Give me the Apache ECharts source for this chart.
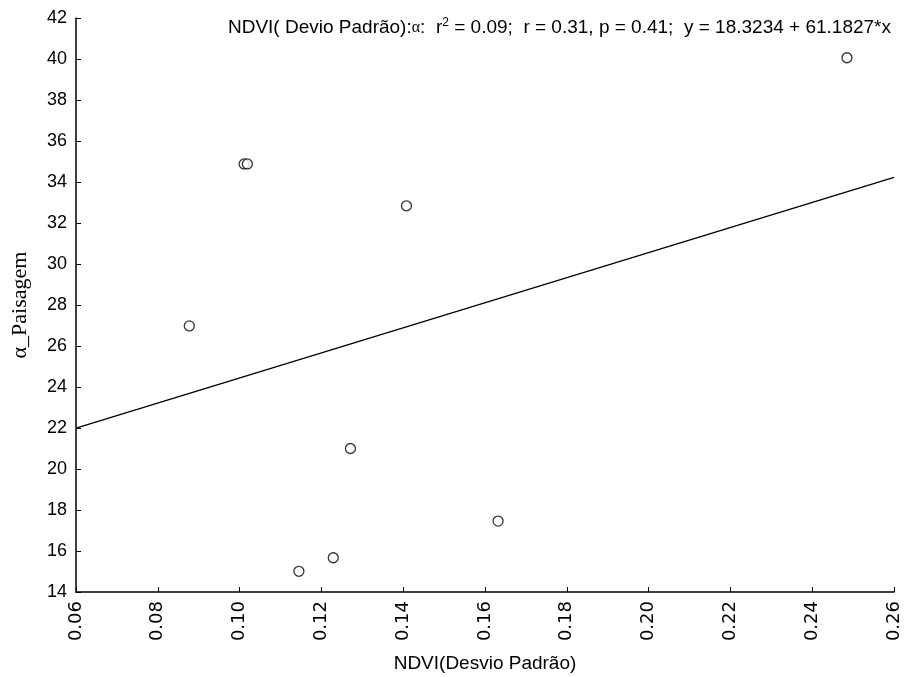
<!DOCTYPE html>
<html>
<head>
<meta charset="utf-8">
<script src="https://cdn.jsdelivr.net/npm/echarts@6/dist/echarts.min.js"></script>
<style>
  html, body { margin: 0; padding: 0; background: #fff; }
  #chart { width: 904px; height: 677px; }
</style>
</head>
<body>
<div id="chart"></div>
<script>
// desvio padrão do NDVI (x) e alfa da paisagem (y)
const ndviSd = [0.2485, 0.1011, 0.1019, 0.1408, 0.0877, 0.1271, 0.1632, 0.1229, 0.1145]
const alphaPaisagem = [40.06, 34.88, 34.88, 32.84, 26.98, 21.0, 17.46, 15.67, 15.01]
// reta ajustada: extremos do eixo x
const fitX = [0.06, 0.26]
const fitY = [21.99, 34.23]
const xTicks = ['0.06', '0.08', '0.10', '0.12', '0.14', '0.16', '0.18', '0.20', '0.22', '0.24', '0.26']
const yTicks = [14, 16, 18, 20, 22, 24, 26, 28, 30, 32, 34, 36, 38, 40, 42]

const sans = '"Liberation Sans", Arial, sans-serif'
const wide = '"DejaVu Sans", Verdana, sans-serif'
const serif = '"Liberation Serif", "Times New Roman", serif'

const option = {
  backgroundColor: '#fff',
  animation: false,
  // título com a equação
  title: {
    right: 8,
    top: 12,
    text: 'NDVI( Devio Padrão):{a|α}:  r{sup|2} = 0.09;  r = 0.31, p = 0.41;  y = 18.3234 + 61.1827*x',
    textStyle: {
      fontFamily: sans,
      fontSize: 19,
      fontWeight: 'normal',
      color: '#000',
      rich: {
        a: { fontFamily: serif, fontSize: 16, color: '#000' },
        sup: { fontFamily: sans, fontSize: 12, color: '#000', verticalAlign: 'top', padding: [0, 0, 9, 0] },
      },
    },
  },
  grid: { left: 76, right: 10, top: 18, bottom: 85, outerBoundsMode: 'none' },
  xAxis: {
    type: 'value',
    min: 0.06,
    max: 0.26,
    interval: 0.02,
    name: 'NDVI(Desvio Padrão)',
    nameLocation: 'middle',
    nameGap: 62,
    nameTextStyle: { fontFamily: sans, fontSize: 19, color: '#000' },
    splitLine: { show: false },
    axisLine: { lineStyle: { color: '#000', width: 1.5 } },
    axisTick: { inside: true, length: 5, lineStyle: { color: '#000' } },
    axisLabel: {
      rotate: 90,
      margin: 9,
      fontFamily: wide,
      fontSize: 18,
      color: '#000',
      formatter: v => xTicks[Math.round((v - 0.06) / 0.02)],
    },
  },
  yAxis: {
    type: 'value',
    min: 14,
    max: 42,
    interval: 2,
    name: 'α_Paisagem',
    nameLocation: 'middle',
    nameGap: 45,
    nameTextStyle: { fontFamily: serif, fontSize: 22, color: '#000' },
    splitLine: { show: false },
    axisLine: { show: true, lineStyle: { color: '#000', width: 1.5 } },
    axisTick: { show: true, inside: true, length: 5, lineStyle: { color: '#000' } },
    axisLabel: {
      margin: 9,
      fontFamily: sans,
      fontSize: 18,
      color: '#000',
      formatter: v => String(yTicks[Math.round((v - 14) / 2)]),
    },
  },
  series: [
    {
      name: 'ajuste',
      type: 'line',
      symbol: 'none',
      lineStyle: { color: '#000', width: 1.3 },
      data: fitX.map((x, i) => [x, fitY[i]]),
      z: 1,
    },
    {
      name: 'pontos',
      type: 'scatter',
      symbol: 'circle',
      symbolSize: 10,
      itemStyle: { color: '#fff', borderColor: '#000', borderWidth: 1.3 },
      data: ndviSd.map((x, i) => [x, alphaPaisagem[i]]),
      z: 2,
    },
  ],
}
echarts.init(document.getElementById('chart')).setOption(option)
</script>
</body>
</html>
